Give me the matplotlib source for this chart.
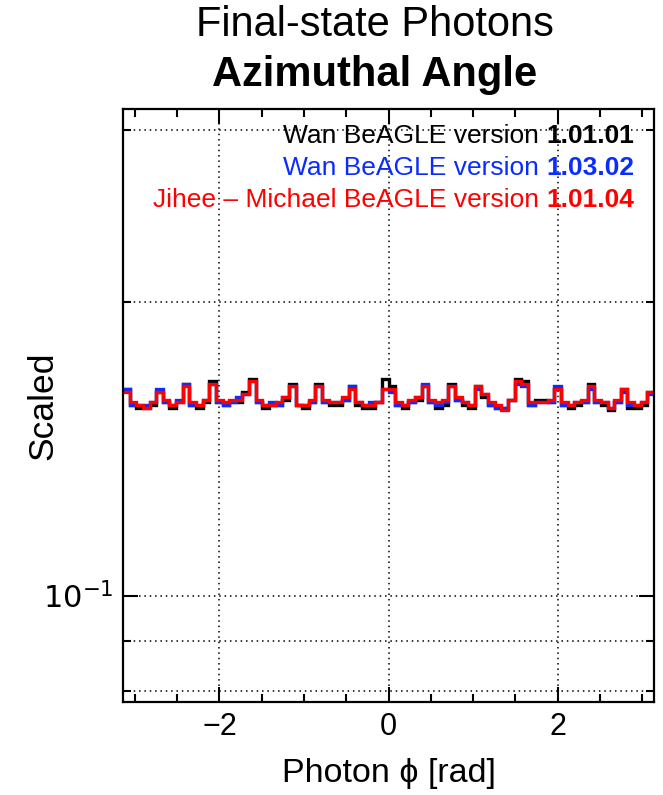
import numpy as np
import matplotlib
matplotlib.use("Agg")
import matplotlib.pyplot as plt
from matplotlib.ticker import FixedLocator, MultipleLocator, NullFormatter

plt.rcParams['font.family'] = ['Liberation Sans', 'DejaVu Sans']

# 80 bins in phi from -pi to pi
n_bins = 80
edges = np.linspace(-np.pi, np.pi, n_bins + 1)

red_vals = [0.162, 0.158, 0.157, 0.156, 0.158, 0.162, 0.159, 0.157, 0.158, 0.164,
            0.158, 0.157, 0.159, 0.165, 0.159, 0.158, 0.159, 0.159, 0.161, 0.166,
            0.159, 0.157, 0.157, 0.158, 0.160, 0.164, 0.157, 0.157, 0.159, 0.164,
            0.159, 0.158, 0.158, 0.160, 0.163, 0.158, 0.157, 0.157, 0.158, 0.163,
            0.163, 0.158, 0.157, 0.159, 0.160, 0.164, 0.159, 0.158, 0.159, 0.164,
            0.160, 0.158, 0.157, 0.164, 0.161, 0.158, 0.157, 0.155, 0.159, 0.166,
            0.165, 0.158, 0.158, 0.158, 0.159, 0.163, 0.158, 0.157, 0.158, 0.159,
            0.164, 0.159, 0.158, 0.156, 0.159, 0.163, 0.158, 0.157, 0.158, 0.162]

black_vals = [0.163, 0.157, 0.156, 0.156, 0.157, 0.162, 0.158, 0.156, 0.158, 0.165,
              0.157, 0.156, 0.158, 0.166, 0.158, 0.157, 0.158, 0.158, 0.162, 0.167,
              0.158, 0.156, 0.157, 0.157, 0.159, 0.165, 0.157, 0.156, 0.158, 0.165,
              0.158, 0.157, 0.157, 0.159, 0.164, 0.157, 0.156, 0.156, 0.158, 0.167,
              0.164, 0.157, 0.156, 0.158, 0.159, 0.164, 0.158, 0.156, 0.157, 0.165,
              0.159, 0.157, 0.156, 0.164, 0.160, 0.157, 0.156, 0.156, 0.159, 0.167,
              0.166, 0.157, 0.159, 0.159, 0.158, 0.163, 0.157, 0.156, 0.157, 0.158,
              0.165, 0.158, 0.157, 0.155, 0.158, 0.163, 0.156, 0.156, 0.157, 0.162]

blue_vals = [0.163, 0.157, 0.157, 0.157, 0.158, 0.163, 0.158, 0.157, 0.159, 0.165,
             0.157, 0.157, 0.159, 0.165, 0.158, 0.157, 0.158, 0.160, 0.161, 0.166,
             0.158, 0.157, 0.158, 0.157, 0.160, 0.164, 0.157, 0.157, 0.158, 0.164,
             0.158, 0.158, 0.158, 0.159, 0.164, 0.158, 0.157, 0.158, 0.158, 0.163,
             0.162, 0.157, 0.157, 0.158, 0.160, 0.165, 0.158, 0.157, 0.158, 0.164,
             0.159, 0.158, 0.157, 0.163, 0.161, 0.157, 0.156, 0.156, 0.159, 0.165,
             0.164, 0.157, 0.158, 0.158, 0.158, 0.164, 0.157, 0.157, 0.158, 0.158,
             0.163, 0.158, 0.158, 0.156, 0.158, 0.162, 0.157, 0.157, 0.158, 0.161]

labels = ["Wan BeAGLE version ", "Wan BeAGLE version ", "Jihee \u2013 Michael BeAGLE version "]
versions = ["1.01.01", "1.03.02", "1.01.04"]
colors = ["black", "#0a2cff", "#ff0000"]

fig = plt.figure(figsize=(6.63, 7.95), dpi=100)
ax = fig.add_axes([123 / 663, 1 - 702 / 795, 531 / 663, 593 / 795])

for vals, c in zip([black_vals, blue_vals, red_vals], colors):
    ax.stairs(vals, edges, color=c, linewidth=2.4, baseline=None)

ax.set_yscale("log")
ax.set_xlim(-np.pi, np.pi)
ax.set_ylim(0.0779, 0.3155)

ax.yaxis.set_major_locator(FixedLocator([0.1]))
ax.yaxis.set_minor_locator(FixedLocator([0.08, 0.09, 0.2, 0.3]))
ax.yaxis.set_minor_formatter(NullFormatter())
ax.set_yticklabels(["$10^{-1}$"])
ax.xaxis.set_major_locator(FixedLocator([-2, 0, 2]))
ax.xaxis.set_minor_locator(MultipleLocator(0.5))
ax.set_xticklabels(["\u22122", "0", "2"])

ax.tick_params(which="both", direction="in", top=True, right=True, width=1.5, labelsize=22)
ax.tick_params(which="major", length=11, pad=7)
ax.tick_params(which="minor", length=5.5)

ax.grid(True, which="major", axis="x", linestyle=(0, (1, 2.5)), color="black", linewidth=1.1)
ax.grid(True, which="both", axis="y", linestyle=(0, (1, 2.5)), color="black", linewidth=1.1)
ax.set_axisbelow(True)
for s in ax.spines.values():
    s.set_linewidth(1.6)

ax.set_ylabel("Scaled", fontsize=25.5)
ax.yaxis.set_label_coords(-0.119, 0.5)
ax.set_xlabel("Photon \u03d5 [rad]", fontsize=24.5, labelpad=12)

fig.text(375 / 663, 1 - 25 / 795, "Final-state Photons", ha="center", va="center", fontsize=30)
fig.text(375 / 663, 1 - 75 / 795, "Azimuthal Angle", ha="center", va="center",
         fontsize=30, fontweight="bold")

# legend text, right aligned inside axes
ys = [136, 168, 200]
for lab, ver, c, yp in zip(labels, versions, colors, ys):
    tv = fig.text(634 / 663, 1 - yp / 795, ver, ha="right", va="center",
                  fontsize=19, fontweight="bold", color=c)
    fig.canvas.draw()
    bb = tv.get_window_extent()
    fig.text(bb.x0 / fig.bbox.width, 1 - yp / 795, lab, ha="right", va="center",
             fontsize=19, color=c)

fig.savefig("out.png", dpi=100)
